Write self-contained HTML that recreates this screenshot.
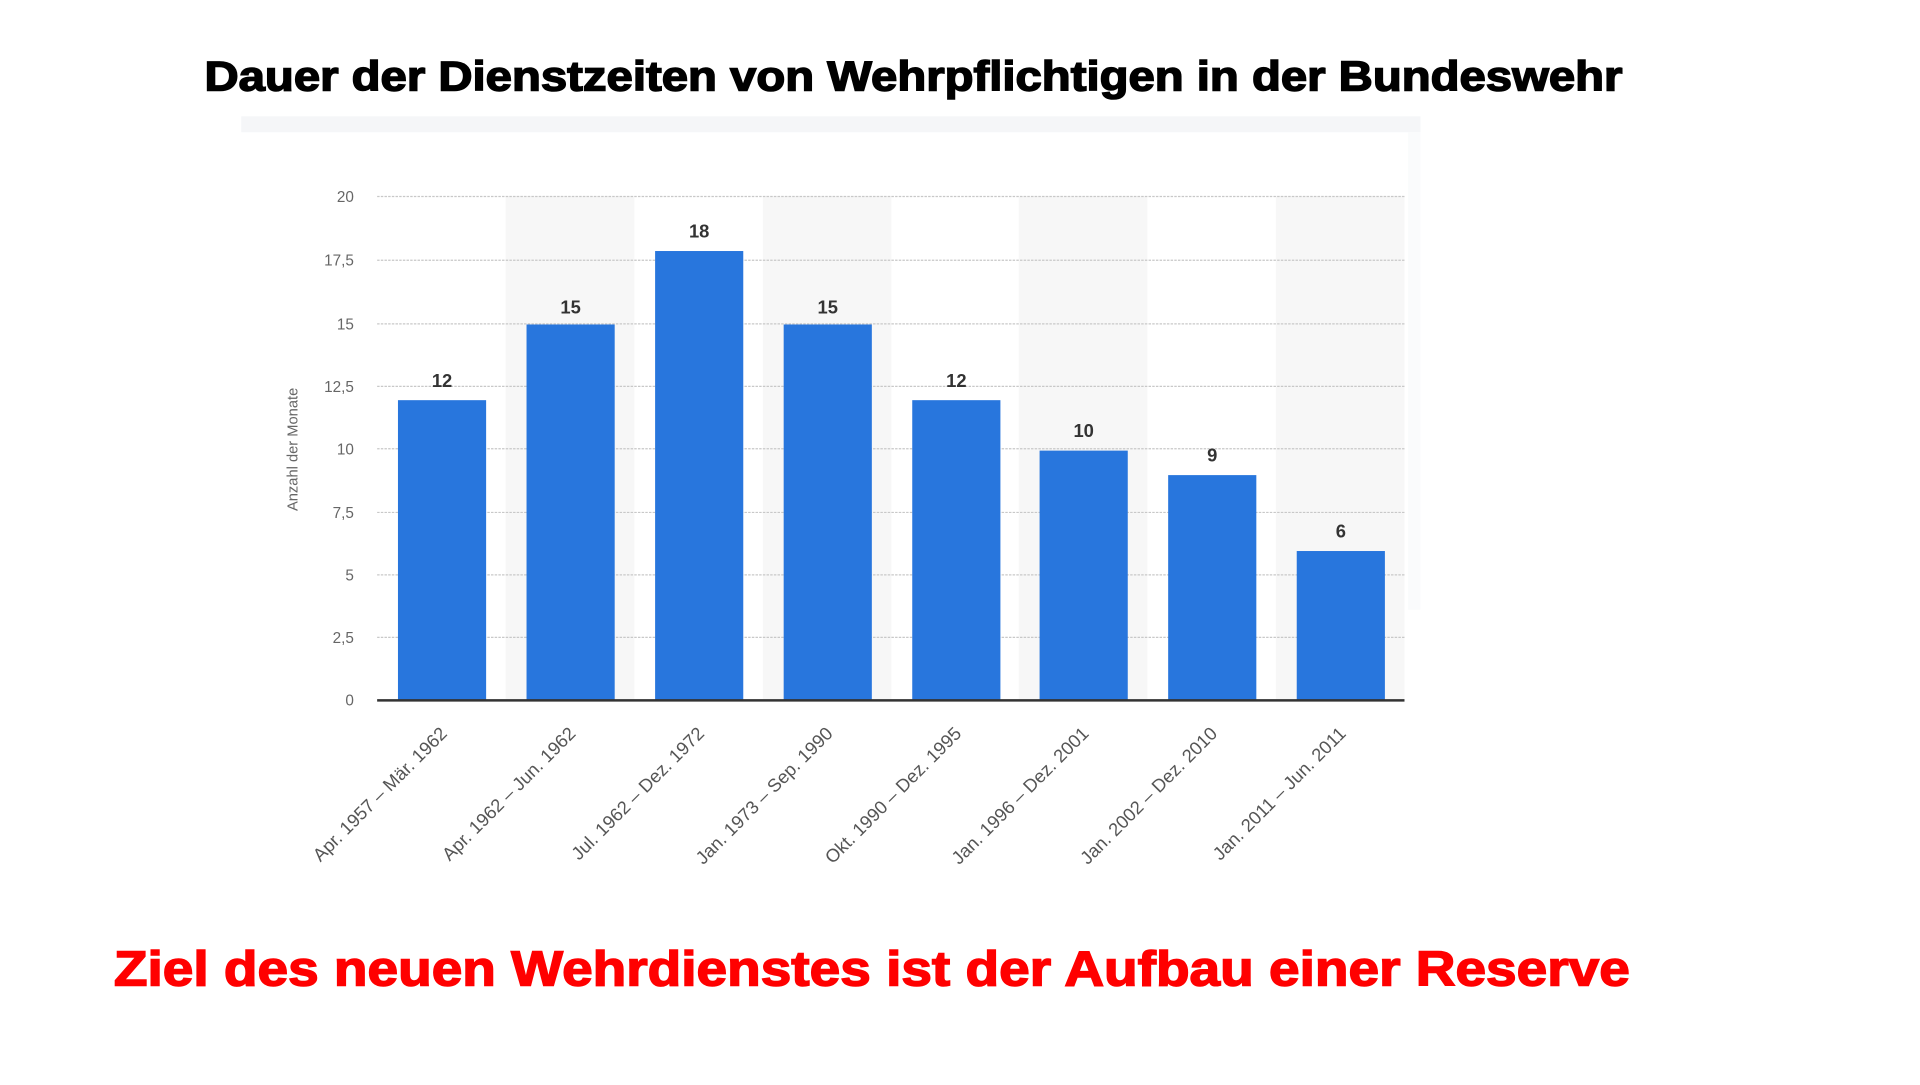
<!DOCTYPE html>
<html><head><meta charset="utf-8"><style>html,body{margin:0;padding:0;background:#fff;overflow:hidden}</style></head>
<body>
<svg width="1920" height="1080" viewBox="0 0 1568 882" preserveAspectRatio="none" xmlns="http://www.w3.org/2000/svg" font-family="Liberation Sans, sans-serif">
<rect width="1568" height="882" fill="#fff"/>
<text x="167" y="74" font-size="34" font-weight="bold" fill="#000" stroke="#000" stroke-width="1.2" textLength="1158" lengthAdjust="spacingAndGlyphs">Dauer der Dienstzeiten von Wehrpflichtigen in der Bundeswehr</text>
<rect x="197" y="95" width="963" height="13" fill="#f5f6f8"/>
<rect x="1150" y="108" width="10" height="390" fill="#fafbfc"/>
<g fill="#f7f7f7">
<rect x="413" y="160" width="105" height="412"/>
<rect x="623" y="160" width="105" height="412"/>
<rect x="832" y="160" width="105" height="412"/>
<rect x="1042" y="160" width="105" height="412"/>
</g>
<g stroke="#c8c8c8" stroke-width="1" stroke-dasharray="2,1">
<line x1="308" x2="1147" y1="160.5" y2="160.5"/><line x1="308" x2="1147" y1="212.5" y2="212.5"/>
<line x1="308" x2="1147" y1="264.5" y2="264.5"/><line x1="308" x2="1147" y1="315.5" y2="315.5"/>
<line x1="308" x2="1147" y1="366.5" y2="366.5"/><line x1="308" x2="1147" y1="418.5" y2="418.5"/>
<line x1="308" x2="1147" y1="469.5" y2="469.5"/><line x1="308" x2="1147" y1="520.5" y2="520.5"/>
</g>
<g font-size="12.5" fill="#666" text-anchor="end">
<text x="289" y="165">20</text><text x="289" y="217">17,5</text><text x="289" y="269">15</text>
<text x="289" y="320">12,5</text><text x="289" y="371">10</text><text x="289" y="423">7,5</text>
<text x="289" y="474">5</text><text x="289" y="525">2,5</text><text x="289" y="576">0</text>
</g>
<text transform="translate(243,367) rotate(-90)" font-size="12" fill="#666" text-anchor="middle">Anzahl der Monate</text>
<g fill="#2876dd">
<rect x="325" y="326.8" width="72" height="245.2"/>
<rect x="430" y="265" width="72" height="307"/>
<rect x="535" y="205" width="72" height="367"/>
<rect x="640" y="265" width="72" height="307"/>
<rect x="745" y="326.8" width="72" height="245.2"/>
<rect x="849" y="368" width="72" height="204"/>
<rect x="954" y="388" width="72" height="184"/>
<rect x="1059" y="450" width="72" height="122"/>
</g>
<line x1="308" x2="1147" y1="572" y2="572" stroke="#333" stroke-width="2"/>
<g font-size="15" font-weight="bold" fill="#333" text-anchor="middle">
<text x="361" y="316">12</text><text x="466" y="256">15</text><text x="571" y="194">18</text>
<text x="676" y="256">15</text><text x="781" y="316">12</text><text x="885" y="357">10</text>
<text x="990" y="377">9</text><text x="1095" y="439">6</text>
</g>
<g font-size="15" fill="#555" text-anchor="end">
<text transform="translate(366,600) rotate(-45)">Apr. 1957 – Mär. 1962</text>
<text transform="translate(471,600) rotate(-45)">Apr. 1962 – Jun. 1962</text>
<text transform="translate(576,600) rotate(-45)">Jul. 1962 – Dez. 1972</text>
<text transform="translate(681,600) rotate(-45)">Jan. 1973 – Sep. 1990</text>
<text transform="translate(786,600) rotate(-45)">Okt. 1990 – Dez. 1995</text>
<text transform="translate(890,600) rotate(-45)">Jan. 1996 – Dez. 2001</text>
<text transform="translate(995,600) rotate(-45)">Jan. 2002 – Dez. 2010</text>
<text transform="translate(1100,600) rotate(-45)">Jan. 2011 – Jun. 2011</text>
</g>
<text x="93" y="805" font-size="40" font-weight="bold" fill="#ff0000" stroke="#ff0000" stroke-width="1.2" textLength="1238" lengthAdjust="spacingAndGlyphs">Ziel des neuen Wehrdienstes ist der Aufbau einer Reserve</text>
</svg>
</body></html>
